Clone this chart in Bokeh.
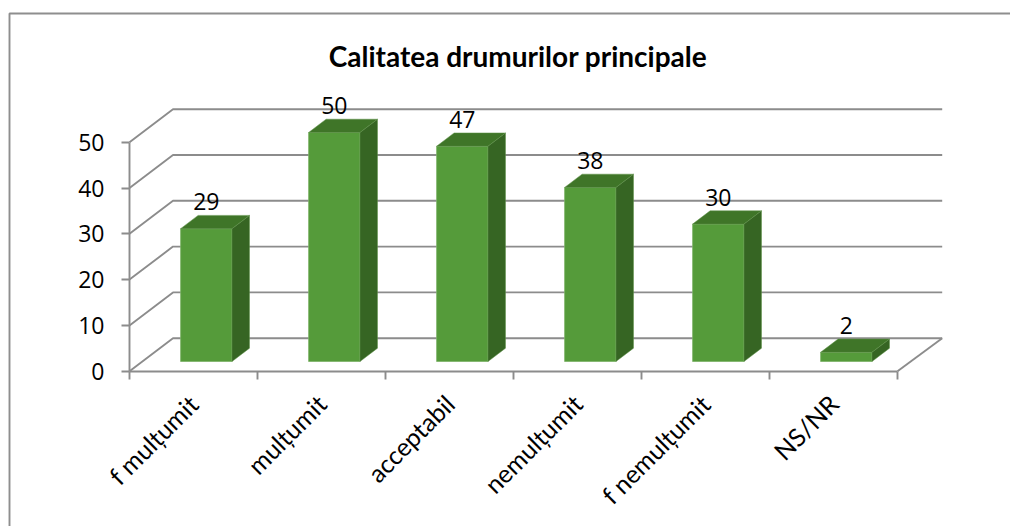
from bokeh.plotting import figure
from bokeh.models import Range1d, FixedTicker, Label, ColumnDataSource
from bokeh.core.properties import value
from bokeh.embed import file_html
from bokeh.resources import INLINE
import math

title_text = "Calitatea drumurilor principale"
categories = ["f mulțumit", "mulțumit", "acceptabil", "nemulțumit", "f nemulțumit", "NS/NR"]
values = [29, 50, 47, 38, 30, 2]
y_ticks = [0, 10, 20, 30, 40, 50]

FONT = "Lato"
NUM_FONT = "Open Sans"
W, H = 1010, 526
ORIGIN_X, ORIGIN_Y = 129.0, 370.7     # axis origin inside the figure, px
PX_X, PX_Y = 128.0, 4.58              # px per category / per value unit
WALL_DX, WALL_DY = 43.5 / PX_X, 33.0 / PX_Y
BAR_DX, BAR_DY = 17.5 / PX_X, 13.3 / PX_Y
BAR_W = 51.4 / PX_X
BAR_CENTER = 0.6
FLOOR = 9.7 / PX_Y
LABEL_UP = 26.8 / PX_Y
GRID = "#8c8c8c"
LW = 1.9

x0 = -ORIGIN_X / PX_X
x1 = (W - ORIGIN_X) / PX_X
y0 = -(H - ORIGIN_Y) / PX_Y
y1 = ORIGIN_Y / PX_Y

p = figure(width=W, height=H, output_backend="svg", toolbar_location=None,
           x_range=Range1d(x0, x1), y_range=Range1d(y0, y1), min_border=0)
p.outline_line_color = None
p.grid.visible = False
p.background_fill_color = "white"

# chart border (left and top only reach the picture)
bx = x0 + 9 / PX_X
by = y1 - 13 / PX_Y
p.line([x1, bx, bx], [by, by, y0], line_color="#8e8e8e", line_width=LW)

# walls and floor
back_end = (941.7 - ORIGIN_X) / PX_X
for t in y_ticks:
    p.line([0, WALL_DX, back_end], [t, t + WALL_DY, t + WALL_DY], line_color=GRID, line_width=LW)
p.line([len(categories), back_end], [0, WALL_DY], line_color=GRID, line_width=LW)

# bars
lefts = [i + BAR_CENTER - BAR_W / 2 for i in range(len(values))]
rights = [l + BAR_W for l in lefts]
tops = [v + FLOOR for v in values]
bottoms = [FLOOR] * len(values)
src = ColumnDataSource(dict(left=lefts, right=rights, top=tops, bottom=bottoms))
p.quad(left="left", right="right", top="top", bottom="bottom", source=src,
       fill_color="#559b3a", line_color="#7db268", line_width=0.8)
p.patches([[l, r, r + BAR_DX, l + BAR_DX] for l, r in zip(lefts, rights)],
          [[t, t, t + BAR_DY, t + BAR_DY] for t in tops],
          fill_color="#3f7528", line_color="#5f9349", line_width=0.5)
p.patches([[r, r + BAR_DX, r + BAR_DX, r] for r in rights],
          [[b, b + BAR_DY, t + BAR_DY, t] for b, t in zip(bottoms, tops)],
          fill_color="#366523", line_color="#5f9349", line_width=0.5)

# data labels
p.text([i + BAR_CENTER for i in range(len(values))], [t + LABEL_UP for t in tops],
       text=[str(v) for v in values], text_align="center", text_baseline="middle",
       text_font=value(NUM_FONT), text_font_size=value("23px"), text_color="black")

# axes
yax = p.yaxis[0]
yax.fixed_location = 0
yax.bounds = (0, 50)
yax.ticker = FixedTicker(ticks=y_ticks)
yax.axis_line_color = GRID
yax.axis_line_width = LW
yax.major_tick_line_color = GRID
yax.major_tick_line_width = LW
yax.major_tick_in = 0
yax.major_tick_out = 8
yax.minor_tick_line_color = None
yax.major_label_standoff = 17
yax.major_label_text_font = NUM_FONT
yax.major_label_text_font_size = "23px"
yax.major_label_text_color = "black"

xax = p.xaxis[0]
xax.fixed_location = 0
xax.bounds = (0, len(categories))
centers = [i + 0.5 for i in range(len(categories))]
xax.ticker = FixedTicker(ticks=centers, minor_ticks=list(range(len(categories) + 1)))
xax.major_label_overrides = {c: n for c, n in zip(centers, categories)}
xax.axis_line_color = GRID
xax.axis_line_width = LW
xax.major_tick_line_color = None
xax.major_tick_in = 0
xax.major_tick_out = 8
xax.minor_tick_line_color = GRID
xax.minor_tick_line_width = LW
xax.minor_tick_in = 0
xax.minor_tick_out = 8
xax.major_label_orientation = math.pi / 4
xax.major_label_standoff = 20
xax.major_label_text_font = FONT
xax.major_label_text_font_size = "25px"
xax.major_label_text_color = "black"

# title
p.add_layout(Label(x=(517.5 - ORIGIN_X) / PX_X, y=(ORIGIN_Y - 55) / PX_Y, text=title_text,
                   text_align="center", text_baseline="middle", text_font=FONT,
                   text_font_size="28px", text_font_style="bold", text_color="black"))

open("out.html", "w").write(file_html(p, INLINE))
